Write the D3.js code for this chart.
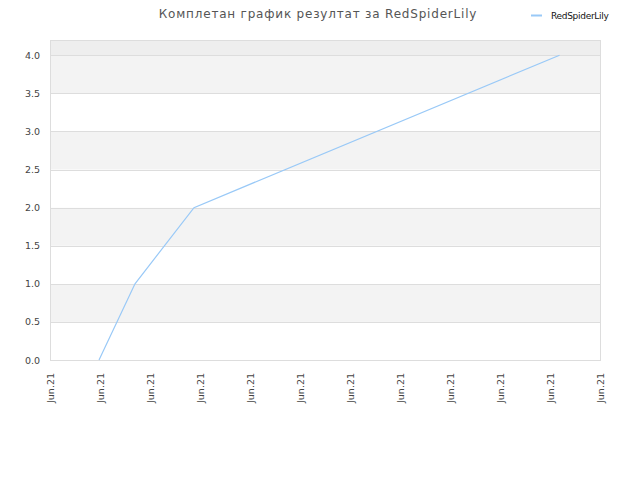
<!DOCTYPE html>
<html>
<head>
<meta charset="utf-8">
<script src="https://cdn.jsdelivr.net/npm/d3@7"></script>
<style>
  body { margin: 0; background: #fff; }
  text { font-family: "DejaVu Sans", sans-serif; }
</style>
</head>
<body>
<div id="chart"></div>
<script>

// data
var seriesName = 'RedSpiderLily';
var titleText = 'Комплетан график резултат за RedSpiderLily';
var tickLabels = ['Jun.21', 'Jun.21', 'Jun.21', 'Jun.21', 'Jun.21', 'Jun.21',
                  'Jun.21', 'Jun.21', 'Jun.21', 'Jun.21', 'Jun.21', 'Jun.21'];
var pointX = [0.98, 1.70, 2.88, 10.19];
var pointY = [0, 1, 2, 4];
var yTicks = [0, 0.5, 1, 1.5, 2, 2.5, 3, 3.5, 4];

var width = 640, height = 480;
var margin = { left: 50, right: 40, top: 40, bottom: 120 };
var plotW = width - margin.left - margin.right;
var plotH = height - margin.top - margin.bottom;

var svg = d3.select('#chart')
            .append('svg')
              .attr('width', width)
              .attr('height', height);

var x = d3.scaleLinear().domain([0, tickLabels.length - 1]).range([0, plotW]);
var y = d3.scaleLinear().domain([0, 4.2]).range([plotH, 0]);

var g = svg.append('g')
           .attr('transform', 'translate(' + margin.left + ',' + margin.top + ')');

// background bands
g.append('rect')
   .attr('x', 0).attr('y', 0)
   .attr('width', plotW).attr('height', y(4))
   .style('fill', '#eeeeee');

for (var i = 0; i < yTicks.length - 1; i++) {
  g.append('rect')
     .attr('x', 0)
     .attr('y', y(yTicks[i + 1]))
     .attr('width', plotW)
     .attr('height', y(yTicks[i]) - y(yTicks[i + 1]))
     .style('fill', i % 2 == 1 ? '#f3f3f3' : '#ffffff');
}

// grid lines
g.selectAll('.grid')
   .data(yTicks)
   .enter().append('line')
     .attr('class', 'grid')
     .attr('x1', 0).attr('x2', plotW)
     .attr('y1', function(d) { return Math.round(y(d)) + 0.5; })
     .attr('y2', function(d) { return Math.round(y(d)) + 0.5; })
     .style('stroke', '#dddddd')
     .style('stroke-width', 1);

// frame
g.append('rect')
   .attr('x', 0.5).attr('y', 0.5)
   .attr('width', plotW).attr('height', plotH)
   .style('fill', 'none')
   .style('stroke', '#dddddd')
   .style('stroke-width', 1);

// y labels
g.selectAll('.ylab')
   .data(yTicks)
   .enter().append('text')
     .attr('class', 'ylab')
     .attr('x', -10)
     .attr('y', function(d) { return y(d) + 3.5; })
     .attr('text-anchor', 'end')
     .style('font-size', '9.5px')
     .style('fill', '#444')
     .text(function(d) { return d.toFixed(1); });

// x labels, rotated
g.selectAll('.xlab')
   .data(tickLabels)
   .enter().append('text')
     .attr('class', 'xlab')
     .attr('transform', function(d, i) {
       return 'translate(' + (x(i) + 3.5) + ',' + (plotH + 13) + ') rotate(-90)';
     })
     .attr('text-anchor', 'end')
     .style('font-size', '9.5px')
     .style('fill', '#444')
     .text(function(d) { return d; });

// the series
var line = d3.line()
             .x(function(d, i) { return x(pointX[i]); })
             .y(function(d) { return y(d); });

g.append('path')
   .datum(pointY)
   .attr('d', line)
   .style('fill', 'none')
   .style('stroke', '#99c9f7')
   .style('stroke-width', 1.2);

// title
svg.append('text')
   .attr('x', 318)
   .attr('y', 18)
   .attr('text-anchor', 'middle')
   .style('font-size', '12px')
   .style('letter-spacing', '0.8px')
   .style('fill', '#555')
   .text(titleText);

// legend
svg.append('line')
   .attr('x1', 531).attr('x2', 542)
   .attr('y1', 15.5).attr('y2', 15.5)
   .style('stroke', '#99c9f7')
   .style('stroke-width', 2);

svg.append('text')
   .attr('x', 551)
   .attr('y', 18.5)
   .style('font-size', '9px')
   .style('letter-spacing', '-0.3px')
   .style('fill', '#111')
   .text(seriesName);

</script>
</body>
</html>
